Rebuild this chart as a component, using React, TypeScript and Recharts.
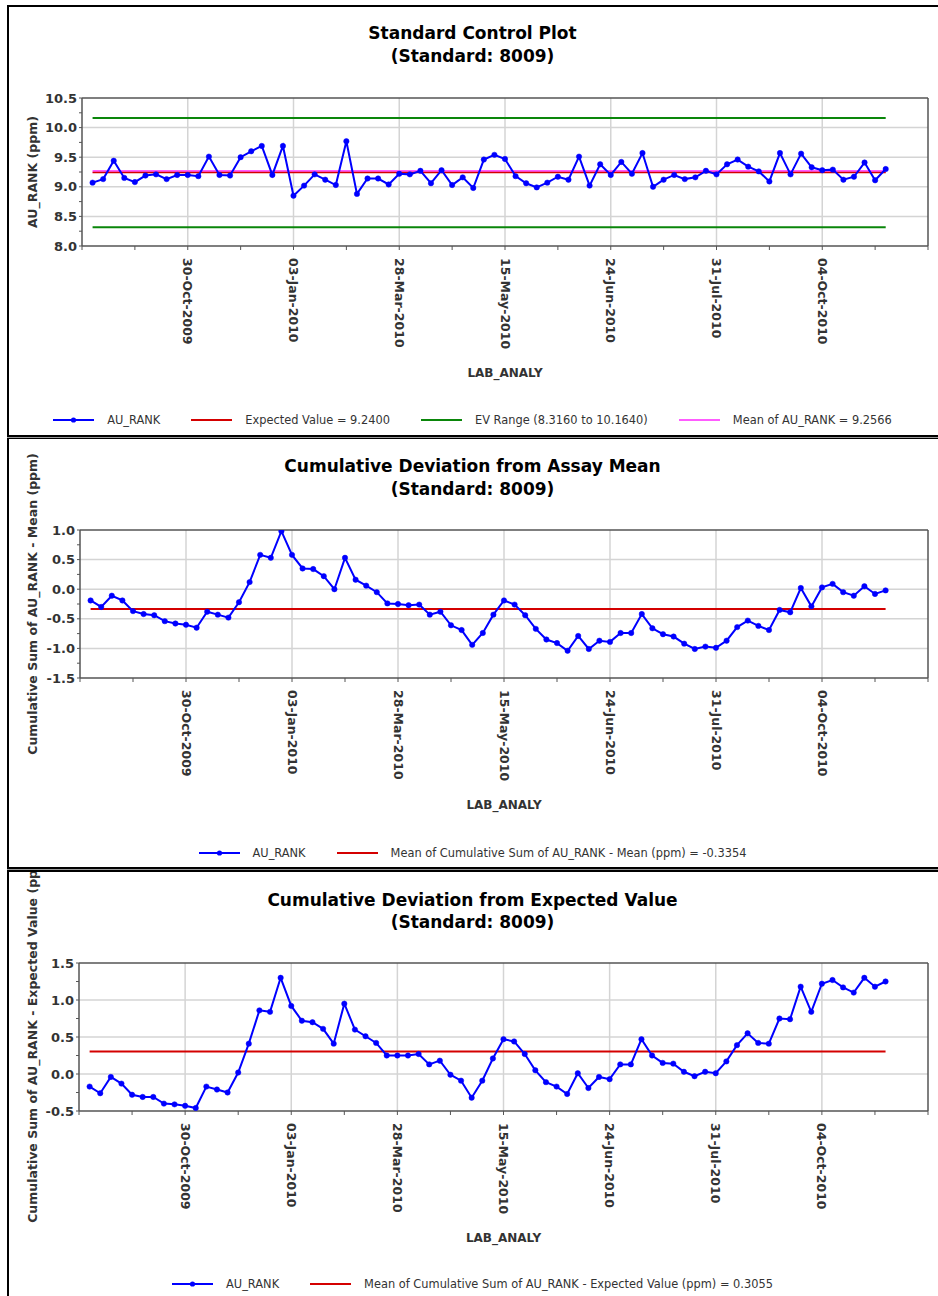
import React from 'react';
import { LineChart, Line, XAxis, YAxis, ReferenceLine } from 'recharts';

// ---- data ----
const dateLabels = ['30-Oct-2009', '03-Jan-2010', '28-Mar-2010', '15-May-2010', '24-Jun-2010', '31-Jul-2010', '04-Oct-2010'];
const dateTickIdx = [9, 19, 29, 39, 49, 59, 69];
const xTicks = [-1, 4, 9, 14, 19, 24, 29, 34, 39, 44, 49, 54, 59, 64, 69, 74, 79];

const auRank = [
  9.07, 9.13, 9.44, 9.15, 9.08, 9.19, 9.21, 9.13, 9.2, 9.2,
  9.18, 9.51, 9.2, 9.19, 9.5, 9.6, 9.69, 9.2, 9.69, 8.85,
  9.02, 9.21, 9.12, 9.03, 9.77, 8.88, 9.14, 9.14, 9.04, 9.22,
  9.21, 9.27, 9.06, 9.28, 9.03, 9.16, 8.98, 9.46, 9.54, 9.47,
  9.18, 9.06, 8.99, 9.07, 9.17, 9.12, 9.51, 9.02, 9.38, 9.2,
  9.42, 9.22, 9.57, 9.0, 9.12, 9.2, 9.13, 9.16, 9.27, 9.21,
  9.38, 9.46, 9.34, 9.26, 9.09, 9.57, 9.21, 9.56, 9.33, 9.28,
  9.29, 9.12, 9.17, 9.41, 9.11, 9.3,
];

const cumDevMean = [
  -0.19, -0.3, -0.11, -0.19, -0.37, -0.42, -0.44, -0.54, -0.58, -0.6,
  -0.65, -0.38, -0.43, -0.48, -0.22, 0.12, 0.58, 0.53, 0.98, 0.58,
  0.35, 0.34, 0.22, 0.0, 0.53, 0.16, 0.06, -0.05, -0.24, -0.25,
  -0.27, -0.26, -0.43, -0.38, -0.61, -0.69, -0.94, -0.74, -0.43, -0.19,
  -0.26, -0.44, -0.67, -0.85, -0.91, -1.04, -0.79, -1.01, -0.87, -0.89,
  -0.74, -0.74, -0.42, -0.66, -0.76, -0.8, -0.92, -1.01, -0.97, -0.99,
  -0.87, -0.64, -0.53, -0.62, -0.69, -0.35, -0.39, 0.02, -0.29, 0.03,
  0.09, -0.05, -0.11, 0.05, -0.08, -0.02,
];

const cumDevExpected = [
  -0.17, -0.26, -0.04, -0.13, -0.28, -0.31, -0.31, -0.4, -0.41, -0.43,
  -0.46, -0.17, -0.21, -0.25, 0.02, 0.41, 0.86, 0.84, 1.3, 0.92,
  0.72, 0.7, 0.61, 0.41, 0.95, 0.6, 0.51, 0.42, 0.25, 0.25,
  0.25, 0.27, 0.13, 0.18, -0.01, -0.09, -0.32, -0.09, 0.21, 0.47,
  0.44, 0.27, 0.05, -0.11, -0.17, -0.27, 0.01, -0.19, -0.04, -0.07,
  0.13, 0.13, 0.47, 0.25, 0.15, 0.14, 0.03, -0.03, 0.03, 0.01,
  0.17, 0.39, 0.55, 0.42, 0.41, 0.75, 0.74, 1.18, 0.84, 1.22,
  1.27, 1.17, 1.1, 1.3, 1.18, 1.25,
];

const expectedValue = 9.24;
const evLow = 8.316;
const evHigh = 10.164;
const meanAuRank = 9.2566;
const meanCumDevMean = -0.3354;
const meanCumDevExpected = 0.3055;

const ticks1 = [8, 8.25, 8.5, 8.75, 9, 9.25, 9.5, 9.75, 10, 10.25, 10.5];
const ticks2 = [-1.5, -1.25, -1, -0.75, -0.5, -0.25, 0, 0.25, 0.5, 0.75, 1];
const ticks3 = [-0.5, -0.25, 0, 0.25, 0.5, 0.75, 1, 1.25, 1.5];

// ---- styles ----
const BLUE = '#0000ff';
const RED = '#d40000';
const GREEN = '#0a860a';
const MAGENTA = '#ff5cff';
const GRID = '#d4d4d4';
const AXIS = '#555555';
const TEXT = '#333333';
const FONT = '"DejaVu Sans", Verdana, sans-serif';

type HLine = { y: number; color: string; width: number };
type LegendItem = { label: string; color: string; dot?: boolean; width?: number };

const fmtY = (v: number) => (Math.abs(v * 2 - Math.round(v * 2)) < 1e-6 ? v.toFixed(1) : '');

const renderDateTick = (p: any) => {
  const i = dateTickIdx.indexOf(p.payload.value);
  if (i < 0) return <g />;
  return (
    <text
      x={p.x}
      y={p.y}
      dx={6}
      dy="0.36em"
      transform={`rotate(90 ${p.x} ${p.y})`}
      fill={TEXT}
      fontSize={12.5}
      fontWeight="bold"
      fontFamily={FONT}
      textAnchor="start"
    >
      {dateLabels[i]}
    </text>
  );
};

function LegendRow({ items, top }: { items: LegendItem[]; top: number }) {
  return (
    <div
      style={{
        position: 'absolute',
        top,
        left: 7,
        width: 931,
        display: 'flex',
        justifyContent: 'center',
        alignItems: 'center',
        gap: 31,
        fontFamily: FONT,
        fontSize: 11.4,
        color: TEXT,
        lineHeight: '14px',
        transform: 'translateY(-50%)',
        whiteSpace: 'nowrap',
      }}
    >
      {items.map((it) => (
        <div key={it.label} style={{ display: 'flex', alignItems: 'center' }}>
          <svg width={41} height={8} style={{ display: 'block' }}>
            <line x1={0} x2={41} y1={4} y2={4} stroke={it.color} strokeWidth={it.width ?? 2} />
            {it.dot && <circle cx={20.5} cy={4} r={2.6} fill={it.color} />}
          </svg>
          <span style={{ marginLeft: 13 }}>{it.label}</span>
        </div>
      ))}
    </div>
  );
}

type PanelProps = {
  top: number;
  height: number;
  margin: { top: number; right: number; bottom: number; left: number };
  title: string;
  titleTop: number;
  titleGap: number;
  yLabel: string;
  values: number[];
  domain: [number, number];
  yTicks: number[];
  hLines: HLine[];
  legend: LegendItem[];
  legendTop: number;
};

function Panel(props: PanelProps) {
  const { top, height, margin, title, titleTop, titleGap, yLabel, values, domain, yTicks, hLines, legend, legendTop } = props;
  const rows = values.map((v, idx) => ({ idx, v }));
  const yMajor = yTicks.filter((t) => fmtY(t) !== '' && t !== domain[0] && t !== domain[1]);

  const renderYLabel = (p: any) => {
    const vb = p.viewBox;
    const cy = vb.y + vb.height / 2;
    return (
      <text
        x={32}
        y={cy}
        dy="0.36em"
        transform={`rotate(-90 32 ${cy})`}
        textAnchor="middle"
        fill={TEXT}
        fontSize={12.5}
        fontWeight="bold"
        fontFamily={FONT}
      >
        {yLabel}
      </text>
    );
  };

  const renderXLabel = (p: any) => {
    const vb = p.viewBox;
    return (
      <text
        x={vb.x + vb.width / 2}
        y={vb.y + 130.5}
        textAnchor="middle"
        fill={TEXT}
        fontSize={12}
        fontWeight="bold"
        fontFamily={FONT}
      >
        LAB_ANALY
      </text>
    );
  };

  return (
    <div style={{ position: 'absolute', left: 0, top, width: 938, height, overflow: 'hidden' }}>
      <div
        style={{
          position: 'absolute',
          top: titleTop,
          left: 7,
          width: 931,
          textAlign: 'center',
          fontFamily: FONT,
          fontWeight: 'bold',
          fontSize: 17,
          lineHeight: `${titleGap}px`,
          color: '#000',
        }}
      >
        <div>{title}</div>
        <div>(Standard: 8009)</div>
      </div>
      <LineChart width={938} height={height} data={rows} margin={margin}>
        {dateTickIdx.map((i) => (
          <ReferenceLine key={'v' + i} x={i} stroke={GRID} strokeWidth={1.5} />
        ))}
        {yMajor.map((t) => (
          <ReferenceLine key={'h' + t} y={t} stroke={GRID} strokeWidth={1.5} />
        ))}
        <ReferenceLine y={domain[1]} stroke={AXIS} strokeWidth={1.5} />
        <ReferenceLine x={79} stroke={AXIS} strokeWidth={1.5} />
        <XAxis
          type="number"
          dataKey="idx"
          domain={[-1, 79]}
          ticks={xTicks}
          interval={0}
          allowDataOverflow
          height={131}
          tickSize={4}
          axisLine={{ stroke: AXIS, strokeWidth: 1.5 }}
          tickLine={{ stroke: AXIS }}
          tick={renderDateTick}
          label={{ value: 'LAB_ANALY', content: renderXLabel }}
        />
        <YAxis
          type="number"
          domain={domain}
          ticks={yTicks}
          interval={0}
          allowDataOverflow
          width={75}
          tickSize={3}
          tickFormatter={fmtY}
          axisLine={{ stroke: AXIS, strokeWidth: 1.5 }}
          tickLine={{ stroke: AXIS }}
          tick={{ fill: TEXT, fontSize: 13, fontWeight: 'bold', fontFamily: FONT }}
          label={{ value: yLabel, content: renderYLabel }}
        />
        {hLines.map((h, k) => (
          <ReferenceLine
            key={'r' + k}
            segment={[
              { x: 0, y: h.y },
              { x: values.length - 1, y: h.y },
            ]}
            stroke={h.color}
            strokeWidth={h.width}
          />
        ))}
        <Line
          type="linear"
          dataKey="v"
          stroke={BLUE}
          strokeWidth={2}
          dot={{ r: 2.7, fill: BLUE, stroke: BLUE, strokeWidth: 0.5 }}
          activeDot={false}
          isAnimationActive={false}
        />
      </LineChart>
      <LegendRow items={legend} top={legendTop} />
    </div>
  );
}

export default function App() {
  return (
    <div style={{ position: 'absolute', left: 0, top: 0, width: 938, height: 1296, background: '#fff', overflow: 'hidden' }}>
      <Panel
        top={0}
        height={435}
        margin={{ top: 98, right: 10, bottom: 58, left: 7 }}
        title="Standard Control Plot"
        titleTop={22}
        titleGap={23}
        yLabel="AU_RANK (ppm)"
        values={auRank}
        domain={[8, 10.5]}
        yTicks={ticks1}
        hLines={[
          { y: evHigh, color: GREEN, width: 2 },
          { y: evLow, color: GREEN, width: 2 },
          { y: meanAuRank, color: MAGENTA, width: 3 },
          { y: expectedValue, color: RED, width: 1.5 },
        ]}
        legend={[
          { label: 'AU_RANK', color: BLUE, dot: true },
          { label: `Expected Value = ${expectedValue.toFixed(4)}`, color: RED },
          { label: `EV Range (${evLow.toFixed(4)} to ${evHigh.toFixed(4)})`, color: GREEN },
          { label: `Mean of AU_RANK = ${meanAuRank.toFixed(4)}`, color: MAGENTA },
        ]}
        legendTop={420}
      />
      <Panel
        top={438}
        height={429}
        margin={{ top: 92, right: 10, bottom: 58, left: 5 }}
        title="Cumulative Deviation from Assay Mean"
        titleTop={17}
        titleGap={23}
        yLabel="Cumulative Sum of AU_RANK - Mean (ppm)"
        values={cumDevMean}
        domain={[-1.5, 1]}
        yTicks={ticks2}
        hLines={[{ y: meanCumDevMean, color: RED, width: 2 }]}
        legend={[
          { label: 'AU_RANK', color: BLUE, dot: true },
          { label: `Mean of Cumulative Sum of AU_RANK - Mean (ppm) = ${meanCumDevMean.toFixed(4)}`, color: RED },
        ]}
        legendTop={415}
      />
      <Panel
        top={872}
        height={424}
        margin={{ top: 91, right: 10, bottom: 54, left: 4 }}
        title="Cumulative Deviation from Expected Value"
        titleTop={16.5}
        titleGap={22}
        yLabel="Cumulative Sum of AU_RANK - Expected Value (ppm)"
        values={cumDevExpected}
        domain={[-0.5, 1.5]}
        yTicks={ticks3}
        hLines={[{ y: meanCumDevExpected, color: RED, width: 2 }]}
        legend={[
          { label: 'AU_RANK', color: BLUE, dot: true },
          { label: `Mean of Cumulative Sum of AU_RANK - Expected Value (ppm) = ${meanCumDevExpected.toFixed(4)}`, color: RED },
        ]}
        legendTop={412}
      />
      {/* frame */}
      <div style={{ position: 'absolute', left: 7, top: 5, width: 931, height: 2, background: '#000' }} />
      <div style={{ position: 'absolute', left: 7, top: 5, width: 2, height: 1291, background: '#000' }} />
      <div style={{ position: 'absolute', left: 7, top: 435, width: 931, height: 2, background: '#000' }} />
      <div style={{ position: 'absolute', left: 7, top: 437, width: 931, height: 1, background: '#999' }} />
      <div style={{ position: 'absolute', left: 7, top: 438, width: 931, height: 1, background: '#000' }} />
      <div style={{ position: 'absolute', left: 7, top: 867, width: 931, height: 2, background: '#000' }} />
      <div style={{ position: 'absolute', left: 7, top: 869, width: 931, height: 1, background: '#999' }} />
      <div style={{ position: 'absolute', left: 7, top: 870, width: 931, height: 2, background: '#000' }} />
    </div>
  );
}
